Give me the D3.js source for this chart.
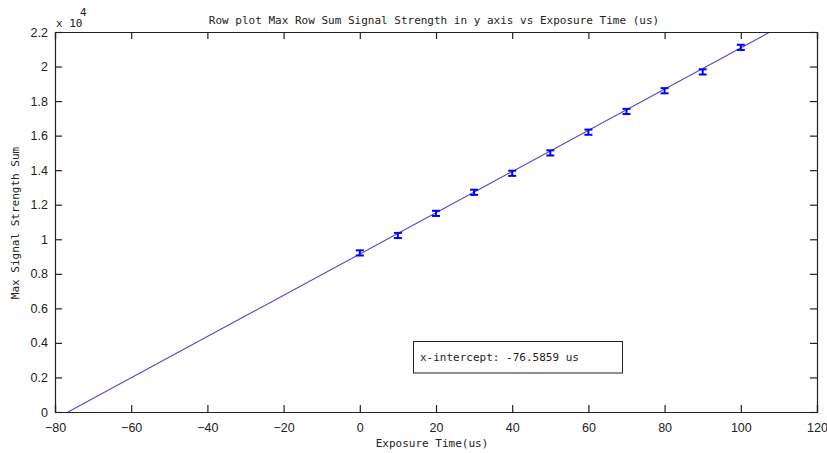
<!DOCTYPE html>
<html>
<head>
<meta charset="utf-8">
<script src="https://cdn.jsdelivr.net/npm/d3@7"></script>
<style>
  html, body { margin: 0; padding: 0; background: #fff; }
  svg { display: block; }
</style>
</head>
<body>
<svg id="chart" width="827" height="453"></svg>
<script>
// Mean of the maximum row sum at each exposure time, with its spread
const exposureTimes = [0, 10, 20, 30, 40, 50, 60, 70, 80, 90, 100];
const rowSumMeans   = [9210, 10220, 11500, 12720, 13820, 15000, 16200, 17400, 18600, 19690, 21110];
const rowSumErrors  = [150, 150, 150, 150, 150, 150, 150, 150, 150, 150, 150];

// Linear fit through the points
const fitXIntercept = -76.5859;
const fitSlope = 119.4;

const xTicks = [-80, -60, -40, -20, 0, 20, 40, 60, 80, 100, 120];
const yTicks = [0, 2000, 4000, 6000, 8000, 10000, 12000, 14000, 16000, 18000, 20000, 22000];

const titleText = "Row plot Max Row Sum Signal Strength in y axis vs Exposure Time (us)";
const xLabelText = "Exposure Time(us)";
const yLabelText = "Max Signal Strength Sum";
const noteText = "x-intercept: -76.5859 us";

const svg = d3.select("#chart");
const margin = { left: 55, right: 10, top: 32, bottom: 41 };
const W = 827, H = 453;
const plotW = W - margin.left - margin.right;
const plotH = H - margin.top - margin.bottom;

const x = d3.scaleLinear().domain([-80, 120]).range([margin.left, margin.left + plotW]);
const y = d3.scaleLinear().domain([0, 22000]).range([margin.top + plotH, margin.top]);

const mono = "'DejaVu Sans Mono', monospace";
const sans = "'Liberation Sans', Arial, sans-serif";
const ink = "#222";

// Clip region for marks
svg.append("defs").append("clipPath").attr("id", "plot-clip")
  .append("rect").attr("x", margin.left).attr("y", margin.top)
  .attr("width", plotW).attr("height", plotH);

const marks = svg.append("g").attr("clip-path", "url(#plot-clip)");

// Fit line from the x-intercept up to the top of the plot
const xTop = fitXIntercept + 22000 / fitSlope;
const fitLine = d3.line().x(d => x(d[0])).y(d => y(d[1]));
marks.append("path")
  .datum([[fitXIntercept, 0], [xTop, fitSlope * (xTop - fitXIntercept)]])
  .attr("d", fitLine)
  .attr("fill", "none")
  .attr("stroke", "#5048c8")
  .attr("stroke-width", 1.1);

// Error bars
const pts = exposureTimes.map((t, i) => ({ t, v: rowSumMeans[i], e: rowSumErrors[i] }));
const capHalf = 4;
const eb = marks.append("g").attr("stroke", "#0000ff").attr("stroke-width", 2);
eb.selectAll("line.stem").data(pts).join("line").attr("class", "stem")
  .attr("x1", d => x(d.t)).attr("x2", d => x(d.t))
  .attr("y1", d => y(d.v - d.e)).attr("y2", d => y(d.v + d.e));
eb.selectAll("line.capLo").data(pts).join("line").attr("class", "capLo")
  .attr("x1", d => x(d.t) - capHalf).attr("x2", d => x(d.t) + capHalf)
  .attr("y1", d => y(d.v - d.e)).attr("y2", d => y(d.v - d.e));
eb.selectAll("line.capHi").data(pts).join("line").attr("class", "capHi")
  .attr("x1", d => x(d.t) - capHalf).attr("x2", d => x(d.t) + capHalf)
  .attr("y1", d => y(d.v + d.e)).attr("y2", d => y(d.v + d.e));

// Axes: bottom/left labelled, top/right tick marks only (boxed plot)
const tickLen = 7;
const fmtY = v => d3.format("~g")(v / 10000);

const xAxis = svg.append("g").attr("transform", `translate(0,${margin.top + plotH})`)
  .call(d3.axisBottom(x).tickValues(xTicks).tickSize(-tickLen).tickPadding(11).tickFormat(d3.format("d")));
const yAxis = svg.append("g").attr("transform", `translate(${margin.left},0)`)
  .call(d3.axisLeft(y).tickValues(yTicks).tickSize(-tickLen).tickPadding(7).tickFormat(fmtY));
const xAxisTop = svg.append("g").attr("transform", `translate(0,${margin.top})`)
  .call(d3.axisTop(x).tickValues(xTicks).tickSize(-tickLen).tickFormat(""));
const yAxisRight = svg.append("g").attr("transform", `translate(${margin.left + plotW},0)`)
  .call(d3.axisRight(y).tickValues(yTicks).tickSize(-tickLen).tickFormat(""));

[xAxis, yAxis, xAxisTop, yAxisRight].forEach(g => {
  g.select(".domain").attr("stroke", ink).attr("stroke-width", 1.2);
  g.selectAll(".tick line").attr("stroke", ink).attr("stroke-width", 1.2);
  g.selectAll("text").attr("font-family", sans).attr("font-size", 12.5).attr("fill", ink);
});

// Multiplier for the y axis
svg.append("text").attr("x", margin.left + 1).attr("y", 27)
  .attr("font-family", mono).attr("font-size", 11).attr("fill", ink).text("x 10");
svg.append("text").attr("x", 80).attr("y", 16)
  .attr("font-family", mono).attr("font-size", 11).attr("fill", ink).text("4");

// Title and axis labels
svg.append("text").attr("x", margin.left + plotW / 2 - 2).attr("y", 24)
  .attr("text-anchor", "middle").attr("font-family", mono).attr("font-size", 11)
  .attr("fill", ink).text(titleText);
svg.append("text").attr("x", 432).attr("y", 447)
  .attr("text-anchor", "middle").attr("font-family", mono).attr("font-size", 11)
  .attr("fill", ink).text(xLabelText);
svg.append("text")
  .attr("transform", `translate(19,${margin.top + plotH / 2 + 1}) rotate(-90)`)
  .attr("text-anchor", "middle").attr("font-family", mono).attr("font-size", 11)
  .attr("fill", ink).text(yLabelText);

// Annotation box with the fitted x-intercept
const note = svg.append("g");
note.append("rect").attr("x", 413.5).attr("y", 341.5).attr("width", 209).attr("height", 31.5)
  .attr("fill", "#fff").attr("stroke", ink).attr("stroke-width", 1);
note.append("text").attr("x", 420).attr("y", 361)
  .attr("font-family", mono).attr("font-size", 11).attr("fill", ink).text(noteText);
</script>
</body>
</html>
